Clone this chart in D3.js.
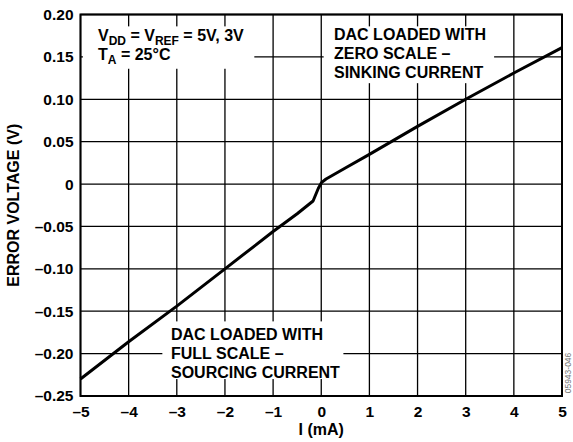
<!DOCTYPE html>
<html><head><meta charset="utf-8">
<script src="https://cdn.jsdelivr.net/npm/d3@7"></script>
<style>
body{margin:0;background:#fff}
svg text{font-family:Arial,"Liberation Sans",Helvetica,sans-serif;font-weight:bold;fill:#000}
</style></head>
<body><svg id="chart" width="573" height="442"></svg>
<script>
// ---- data ----
const current = [-5, -4, -3, -2, -1, -0.5, -0.17, -0.06, 0.01, 0.1, 0.5, 1, 2, 3, 4, 5];
const errorVoltage = [-0.230, -0.186, -0.144, -0.100, -0.056, -0.035, -0.020, -0.005, 0.002, 0.006, 0.019, 0.035, 0.068, 0.100, 0.131, 0.161];
const xTicks = [-5, -4, -3, -2, -1, 0, 1, 2, 3, 4, 5];
const xTickLabels = ["–5", "–4", "–3", "–2", "–1", "0", "1", "2", "3", "4", "5"];
const yTicks = [0.20, 0.15, 0.10, 0.05, 0, -0.05, -0.10, -0.15, -0.20, -0.25];
const yTickLabels = ["0.20", "0.15", "0.10", "0.05", "0", "–0.05", "–0.10", "–0.15", "–0.20", "–0.25"];
const xTitle = "I (mA)";
const yTitle = "ERROR VOLTAGE (V)";
const noteSink = ["DAC LOADED WITH", "ZERO SCALE –", "SINKING CURRENT"];
const noteSource = ["DAC LOADED WITH", "FULL SCALE –", "SOURCING CURRENT"];
const figCode = "05943-046";

// ---- layout ----
const L = 80.5, R = 562, T = 14.5, B = 396;
const svg = d3.select("#chart");
const x = d3.scaleLinear().domain([-5, 5]).range([L, R]);
const y = d3.scaleLinear().domain([-0.25, 0.20]).range([B, T]);

// grid
const g = svg.append("g");
g.selectAll("line.v").data(xTicks).join("line")
  .attr("x1", d => x(d)).attr("x2", d => x(d)).attr("y1", T).attr("y2", B)
  .attr("stroke", "#000").attr("stroke-width", 1.3);
g.selectAll("line.h").data(yTicks).join("line")
  .attr("y1", d => y(d)).attr("y2", d => y(d)).attr("x1", L).attr("x2", R)
  .attr("stroke", "#000").attr("stroke-width", 1.3);

// annotation boxes (white, masking gridlines)
const boxes = [
  {x0: -4.95, x1: -1.39, y0: 0.186, y1: 0.136},
  {x0: 0.05, x1: 3.59, y0: 0.186, y1: 0.119},
  {x0: -3.3, x1: 0.46, y0: -0.162, y1: -0.230}
];
svg.selectAll("rect.box").data(boxes).join("rect")
  .attr("x", d => x(d.x0)).attr("y", d => y(d.y0))
  .attr("width", d => x(d.x1) - x(d.x0)).attr("height", d => y(d.y1) - y(d.y0))
  .attr("fill", "#fff");

// data line
const data = current.map((c, i) => [c, errorVoltage[i]]);
svg.append("path").datum(data)
  .attr("d", d3.line().x(d => x(d[0])).y(d => y(d[1])))
  .attr("fill", "none").attr("stroke", "#000").attr("stroke-width", 3)
  .attr("stroke-linejoin", "round");

// border
svg.append("rect").attr("x", L).attr("y", T).attr("width", R - L).attr("height", B - T)
  .attr("fill", "none").attr("stroke", "#000").attr("stroke-width", 2);

// axes (labels only)
const xAxis = d3.axisBottom(x).tickValues(xTicks).tickFormat((d, i) => xTickLabels[i]).tickSize(0).tickPadding(10);
const gx = svg.append("g").attr("transform", `translate(0,${B})`).call(xAxis);
gx.select(".domain").remove();
gx.selectAll("text").style("font-size", "15.5px").attr("font-family", null).attr("fill", "#000");

const yAxis = d3.axisLeft(y).tickValues(yTicks).tickFormat((d, i) => yTickLabels[i]).tickSize(0).tickPadding(7);
const gy = svg.append("g").attr("transform", `translate(${L},0)`).call(yAxis);
gy.select(".domain").remove();
gy.selectAll("text").style("font-size", "15.5px").attr("font-family", null).attr("fill", "#000");

// titles
svg.append("text").attr("x", (L + R) / 2).attr("y", 435).attr("text-anchor", "middle")
  .style("font-size", "16px").text(xTitle);
svg.append("text").attr("transform", `translate(19,${(T + B) / 2}) rotate(-90)`)
  .attr("text-anchor", "middle").style("font-size", "16px").text(yTitle);

// top-left condition note
const t1 = svg.append("text").attr("x", 98).attr("y", 40.5).style("font-size", "16px");
t1.append("tspan").text("V");
t1.append("tspan").attr("dy", 4).style("font-size", "12px").text("DD");
t1.append("tspan").attr("dy", -4).text(" = V");
t1.append("tspan").attr("dy", 4).style("font-size", "12px").text("REF");
t1.append("tspan").attr("dy", -4).text(" = 5V, 3V");
const t2 = svg.append("text").attr("x", 98).attr("y", 60).style("font-size", "16px");
t2.append("tspan").text("T");
t2.append("tspan").attr("dy", 4).style("font-size", "12px").text("A");
t2.append("tspan").attr("dy", -4).text(" = 25°C");

// notes
svg.selectAll("text.sink").data(noteSink).join("text")
  .attr("x", 334).attr("y", (d, i) => 39.5 + i * 19).style("font-size", "16px").text(d => d);
svg.selectAll("text.source").data(noteSource).join("text")
  .attr("x", 171).attr("y", (d, i) => 340 + i * 19).style("font-size", "16px").text(d => d);

// figure code
svg.append("text").attr("transform", "translate(571,373) rotate(-90)")
  .attr("text-anchor", "middle").style("font-size", "8.5px").style("font-weight", "normal")
  .style("fill", "#777").text(figCode);
</script></body></html>
